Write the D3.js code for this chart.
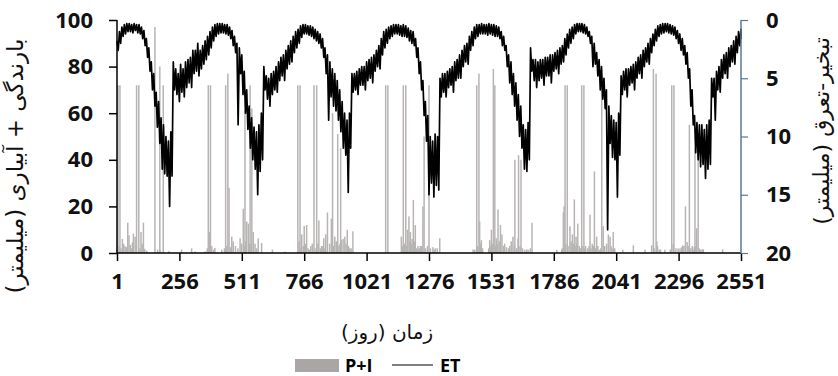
<!DOCTYPE html>
<html>
<head>
<meta charset="utf-8">
<script src="https://cdn.jsdelivr.net/npm/d3@7"></script>
<style>
  body { margin: 0; background: #fff; }
  svg { display: block; }
  .tick text { font-family: 'Open Sans', 'Liberation Sans', sans-serif; font-weight: 700; font-size: 22px; fill: #111; }
  .fa { font-family: 'DejaVu Sans', sans-serif; direction: rtl; fill: #111; }
</style>
</head>
<body>
<svg id="chart" width="838" height="376"></svg>
<script>
// x axis (days) and the two y axes
const dayTicks = [1, 256, 511, 766, 1021, 1276, 1531, 1786, 2041, 2296, 2551];
const piTicks = [0, 20, 40, 60, 80, 100];
const etTicks = [0, 5, 10, 15, 20];

// daily ET (mm) is too dense to read day by day: for every 10-day window
// starting at day 1 the lowest (etLow) and highest (etHigh) value is read
const etFirstDay = 1;
const etEvery = 10;
const etLow = [
  1.8,1.0,0.6,0.4,0.3,0.3,0.4,0.3,0.4,0.4,0.6,0.9,1.6,2.4,3.6,4.6,6.2,7.0,8.4,9.0,10.0,10.4,9.6,3.6,4.2,4.6,3.8,4.2,3.6,3.4,3.2,2.6,2.6,2.0,2.6,2.2,1.8,
  1.4,1.0,0.6,0.4,0.3,0.3,0.3,0.4,0.4,0.6,0.9,1.4,2.0,2.4,3.0,4.4,6.0,7.4,8.4,9.2,9.6,9.0,8.0,4.0,4.8,5.0,4.6,4.4,4.0,3.6,3.2,3.0,2.6,2.2,1.8,1.4,1.0,
  0.8,0.5,0.4,0.4,0.5,0.5,0.6,0.8,1.0,1.2,1.6,2.4,3.0,3.6,4.2,4.6,5.2,6.0,7.0,8.0,8.6,8.0,4.6,4.6,4.4,4.2,4.0,4.0,3.6,3.4,3.2,3.0,2.6,2.2,1.6,1.0,0.8,
  0.6,0.5,0.4,0.4,0.4,0.5,0.4,0.5,0.7,0.9,1.0,1.6,2.4,3.6,5.2,7.0,8.2,10.0,10.4,9.8,10.0,5.0,4.6,4.6,4.4,4.2,4.0,3.6,3.4,3.0,2.6,2.2,2.0,1.4,1.0,0.6,0.4,
  0.4,0.3,0.4,0.4,0.3,0.4,0.4,0.5,0.6,1.0,1.4,2.2,3.0,3.6,4.6,5.4,6.4,7.4,9.0,9.4,8.8,2.4,3.4,3.4,3.6,3.4,3.4,3.2,3.2,3.0,3.0,2.8,2.6,2.4,2.2,1.6,1.2,
  0.8,0.6,0.4,0.3,0.3,0.3,0.4,0.6,1.0,1.4,2.0,2.8,3.4,4.0,5.0,6.0,7.4,8.2,8.6,8.8,8.0,4.8,4.4,4.2,4.2,4.0,3.8,3.6,3.2,3.0,2.6,2.4,2.0,1.6,1.2,0.8,0.5,
  0.4,0.3,0.3,0.3,0.4,0.5,0.6,0.9,1.2,1.6,2.2,2.8,4.2,6.0,8.2,8.8,9.0,9.0,9.4,9.0,8.6,5.0,5.0,4.4,4.0,3.4,3.0,2.8,2.4,2.2,1.8,1.4,1.0,0.8
];
const etHigh = [
  2.6,2.0,1.4,1.2,1.0,1.0,1.1,0.9,1.1,1.2,1.6,2.2,3.2,4.4,6.0,7.4,9.2,10.6,12.8,13.2,13.4,16.0,13.4,6.0,6.4,7.0,6.2,6.6,5.8,5.4,5.8,4.6,4.4,4.8,4.2,3.8,3.4,
  3.0,2.4,1.8,1.4,1.2,1.1,1.1,1.2,1.3,1.6,2.2,2.8,9.0,4.6,6.4,8.0,9.4,11.0,12.0,12.8,15.0,13.0,12.0,6.0,6.8,7.4,6.4,6.0,6.2,5.2,4.8,5.2,4.2,3.8,3.6,2.8,2.4,
  2.0,1.5,1.2,1.2,1.3,1.4,1.6,1.8,2.0,2.4,3.2,4.6,8.6,6.6,7.4,7.8,8.6,9.6,11.0,11.6,14.8,11.0,6.2,6.0,6.4,5.6,5.6,6.0,5.2,5.0,5.4,4.4,4.0,4.2,3.0,2.4,2.0,
  1.6,1.4,1.2,1.2,1.3,1.4,1.4,1.5,1.8,2.0,2.2,3.2,4.6,6.0,8.2,10.4,15.0,14.0,15.2,14.2,14.6,6.6,6.2,6.6,5.8,5.6,6.2,5.2,5.0,5.0,4.0,3.6,3.8,2.6,2.2,1.6,1.4,
  1.2,1.2,1.2,1.3,1.2,1.3,1.4,1.4,1.6,2.2,2.6,4.0,5.4,6.4,7.4,8.6,10.0,11.0,12.8,13.0,12.0,4.4,5.2,5.8,5.2,5.0,5.6,4.8,4.8,5.4,4.4,4.2,4.6,3.8,3.6,3.0,2.4,
  2.0,1.6,1.2,1.0,1.0,1.1,1.2,1.4,2.0,4.0,3.8,4.8,6.0,6.8,7.6,18.0,10.6,11.8,12.0,15.2,11.6,6.4,6.0,6.6,5.6,5.4,6.0,5.0,4.6,5.0,4.0,3.6,3.8,2.8,2.2,1.8,1.4,
  1.2,1.1,1.0,1.1,1.2,1.3,1.6,2.0,2.6,3.0,3.8,5.0,7.4,9.0,11.4,12.0,12.6,12.4,13.6,12.8,12.4,6.6,8.6,6.0,6.2,5.0,4.6,5.0,4.0,3.6,3.8,2.8,2.2,1.6
];

// irrigation events [day, mm]
const irrigation = [
  [5,72],[13,72],[81,72],[90,72],[156,97],[176,80],[190,72],
  [374,72],[383,72],[445,72],[454,77],[524,61],[545,72],[552,62],
  [740,72],[749,72],[806,72],[817,72],[882,60],[903,51],[915,45],
  [1099,72],[1108,72],[1171,72],[1181,72],[1256,50],[1276,72],
  [1471,72],[1480,77],[1539,79],[1545,72],[1627,40],[1642,42],[1652,40],
  [1832,72],[1841,72],[1900,72],[1909,72],[1952,35],[1982,72],
  [2193,79],[2204,77],[2268,72],[2277,72],[2340,55],[2363,45],[2376,42]
];

// rainfall events [day, mm]
const rain = [
  [2,1.5],[8,3],[17,2],[23,6],[28,4],[34,3],[39,2.5],[45,13],[50,7.6],[55,3.5],[61,2],[64,4.5],[68,8.3],[75,7],[80,3],[95,2],[99,9],[104,4],[109,13],[114,1.8],[122,1],
  [167,1.5],[177,1],[213,0.8],[265,1.5],[306,2],[320,0.7],[361,0.7],
  [370,2],[378,9],[388,3],[395,1.5],[401,2.2],[429,1.4],[440,2],[450,3],[459,28],[465,2.5],[470,7],[476,5],[485,3],[495,2],[504,6.3],[510,4],[517,19],[522,3],[527,5],[531,13.5],[538,12.6],[543,4],[550,3],[558,9],[565,4],[571,2],[578,6.3],[592,4.3],
  [636,1.5],[688,0.6],
  [745,5],[752,2],[756,8],[762,3],[766,11.6],[771,4],[776,12],[782,2],[787,1.5],[793,3],[799,4],[810,2],[822,4],[826,14],[832,2],[837,3],[842,3],[846,6.3],[850,2],[854,8],[861,17.4],[870,4],[877,14.7],[885,3],[891,7],[897,5],[908,3],[912,4],[918,5.5],[925,6],[932,7],[937,4],[942,10],[947,3],[952,2],[958,2],[965,9.3],
  [1163,7],[1168,3],[1176,4],[1185,3],[1188,10],[1194,15.7],[1197,5],[1200,9],[1204,4],[1207,6],[1212,22.7],[1216,5],[1220,12],[1226,2],[1231,3],[1236,2],[1241,3],[1246,3],[1251,20],[1262,2],[1270,3],[1282,2],[1292,2.5],[1297,1.5],[1302,2],[1310,2],[1320,6.3],
  [1456,1.5],[1463,1.5],[1475,3],[1483,13.6],[1487,4],[1490,5.5],[1495,2],[1520,2],[1524,5.5],[1528,3],[1531,10],[1535,4],[1548,3],[1551,6.3],[1555,4],[1558,18.7],[1563,5],[1568,12],[1574,8],[1580,3],[1585,4],[1592,2.5],[1600,2],[1606,3],[1612,5],[1619,7],[1625,3],[1634,2],[1640,6.3],[1648,3],[1658,2],[1667,1.4],[1675,1.5],[1681,1.4],[1690,2],[1697,13],
  [1798,1.4],[1818,1.4],[1821,2],[1825,17.4],[1828,20],[1835,4],[1848,3],[1852,11.5],[1857,5],[1862,8],[1866,4],[1870,23],[1873,3],[1877,7],[1880,4],[1884,12.6],[1890,3],[1895,2],[1905,3],[1912,2],[1916,3],[1924,2],[1930,3],[1934,16.4],[1938,2],[1943,4],[1948,3],[1956,2],[1961,7],[1966,3],[1972,1.4],[1978,2],[1988,11.5],[1994,3],[2002,4],[2009,8],[2016,7],[2020,3],[2024,2],[2029,9],[2035,2],
  [2068,1.4],[2111,3.3],[2159,1.4],[2186,3.3],[2196,2],[2207,5],[2210,3],[2217,1.4],[2222,1.5],[2240,1.4],[2262,1.5],[2274,4],[2285,2],[2294,2],[2302,2],[2309,2.5],[2313,3.3],[2318,3],[2324,20],[2331,4.7],[2335,3],[2346,2],[2352,3],[2356,1.4],[2360,2.5],[2366,3],[2370,10.6],[2380,2],[2386,1.4],[2392,1.5],[2397,1.6],[2476,1.6]
];

const margin = { top: 20, right: 97, bottom: 123, left: 117 };
const svg = d3.select('#chart');
const W = +svg.attr('width'), H = +svg.attr('height');
const width = W - margin.left - margin.right;
const height = H - margin.top - margin.bottom;

const x = d3.scaleLinear().domain([1, 2551]).range([0, width]);
const yPI = d3.scaleLinear().domain([0, 100]).range([height, 0]);
const yET = d3.scaleLinear().domain([0, 20]).range([0, height]);

const g = svg.append('g')
  .attr('transform', 'translate(' + margin.left + ',' + margin.top + ')');

// P+I bars
const events = rain.concat(irrigation);
g.append('g')
  .selectAll('rect')
  .data(events)
  .enter().append('rect')
  .attr('x', d => x(d[0]) - 0.75)
  .attr('width', 1.5)
  .attr('y', d => yPI(d[1]))
  .attr('height', d => yPI(0) - yPI(d[1]))
  .attr('fill', '#b8b4b4');

// ET line: within each window it swings from the low value to the high one
const et = [];
etLow.forEach((lo, i) => {
  const day = etFirstDay + i * etEvery;
  et.push([day, lo]);
  if (i < etLow.length - 1) et.push([day + etEvery / 2, etHigh[i]]);
  else et.push([day, etHigh[i]]);
});
g.append('path')
  .datum(et)
  .attr('fill', 'none')
  .attr('stroke', '#000')
  .attr('stroke-width', 1.7)
  .attr('stroke-linejoin', 'round')
  .attr('d', d3.line().x(d => x(d[0])).y(d => yET(d[1])));

// axes
const fmt = d3.format('d');
const axL = g.append('g')
  .call(d3.axisLeft(yPI).tickValues(piTicks).tickFormat(fmt).tickSize(8).tickPadding(16));
const axB = g.append('g')
  .attr('transform', 'translate(0,' + height + ')')
  .call(d3.axisBottom(x).tickValues(dayTicks).tickFormat(fmt).tickSize(8).tickPadding(12));
const axR = g.append('g')
  .attr('transform', 'translate(' + width + ',0)')
  .call(d3.axisRight(yET).tickValues(etTicks).tickFormat(fmt).tickSize(7).tickPadding(18));

[axL, axB].forEach(a => {
  a.select('.domain').attr('stroke', '#000').attr('stroke-width', 1.5);
  a.selectAll('.tick line').attr('stroke', '#000').attr('stroke-width', 1.5);
});
axL.select('.domain').attr('d', 'M0,0V' + height);
axB.select('.domain').attr('d', 'M0,0H' + width);
axR.select('.domain').attr('stroke', '#5b7896').attr('stroke-width', 1.5).attr('d', 'M0,0V' + height);
axR.selectAll('.tick line').attr('stroke', '#5b7896').attr('stroke-width', 1.2);

// titles
svg.append('text').attr('class', 'fa')
  .attr('transform', 'translate(23,166) rotate(-90)')
  .attr('text-anchor', 'middle')
  .style('font-size', '23px')
  .text('بارندگی + آبیاری (میلیمتر)');

svg.append('text').attr('class', 'fa')
  .attr('transform', 'translate(829,131) rotate(-90)')
  .attr('text-anchor', 'middle')
  .style('font-size', '22px')
  .text('تبخیر-تعرق (میلیمتر)');

svg.append('text').attr('class', 'fa')
  .attr('x', 387).attr('y', 339)
  .attr('text-anchor', 'middle')
  .style('font-size', '20px')
  .text('زمان (روز)');

// legend
const lg = svg.append('g').attr('transform', 'translate(295,365)');
lg.append('rect').attr('x', 0).attr('y', -6).attr('width', 44).attr('height', 13).attr('fill', '#aaa6a6');
lg.append('text').attr('x', 50).attr('y', 7)
  .style('font-family', "'Open Sans', sans-serif").style('font-weight', 700).style('font-size', '18px')
  .text('P+I');
lg.append('line').attr('x1', 97).attr('x2', 138).attr('y1', 0).attr('y2', 0).attr('stroke', '#000').attr('stroke-width', 1.2);
lg.append('text').attr('x', 145).attr('y', 7)
  .style('font-family', "'Open Sans', sans-serif").style('font-weight', 700).style('font-size', '18px')
  .text('ET');
</script>
</body>
</html>
